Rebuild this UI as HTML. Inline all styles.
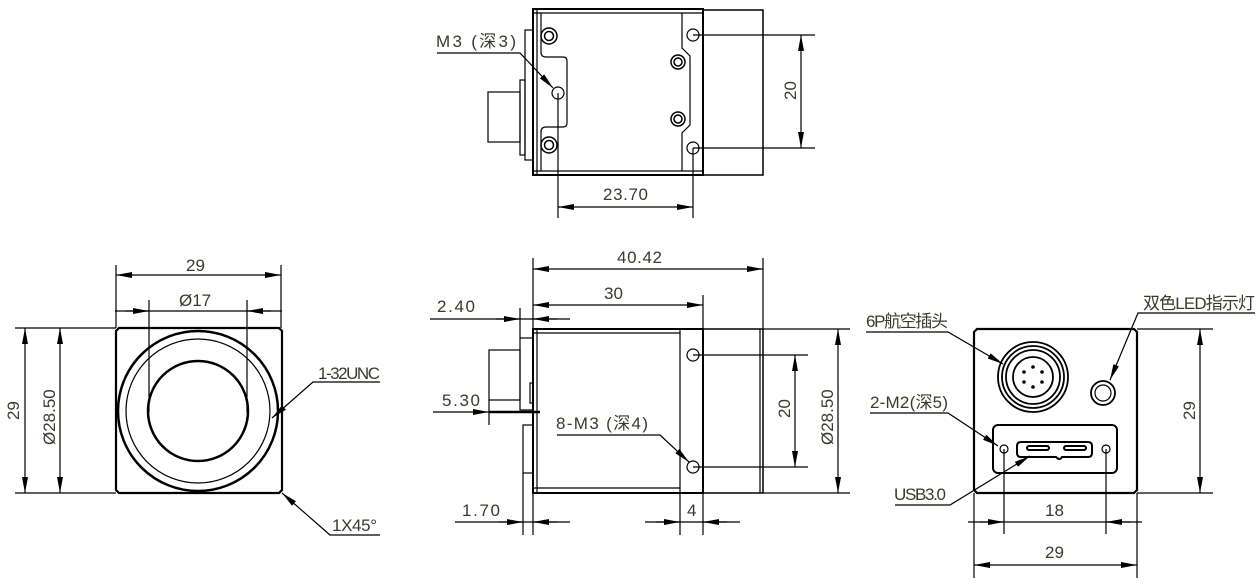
<!DOCTYPE html>
<html><head><meta charset="utf-8"><style>
html,body{margin:0;padding:0;background:#fff;}
svg{display:block;}
text{font-family:"Liberation Sans","Noto Sans CJK SC",sans-serif;font-size:17px;fill:#3a3a30;}
</style></head><body>
<svg width="1258" height="586" viewBox="0 0 1258 586" xmlns="http://www.w3.org/2000/svg">
<defs>
<marker id="a" viewBox="0 0 16 6" refX="16" refY="3" markerWidth="16" markerHeight="6" markerUnits="userSpaceOnUse" orient="auto-start-reverse"><path d="M0,0L16,3L0,6z" fill="#000"/></marker>
</defs>
<g fill="none" stroke="#000" stroke-width="1.2">

<!-- LEFT VIEW -->
<path d="M119,328H279L282,331V490L279,493H119L116,490V331Z" stroke-width="2.2"/>
<circle cx="198" cy="411" r="80" stroke-width="2.5"/>
<circle cx="198" cy="411" r="72"/>
<circle cx="198" cy="411" r="50" stroke-width="2.5"/>
<line x1="116" y1="265" x2="116" y2="328"/>
<line x1="281" y1="265" x2="281" y2="328"/>
<line x1="116" y1="275" x2="281" y2="275" marker-start="url(#a)" marker-end="url(#a)"/>
<line x1="149" y1="300" x2="149" y2="412"/>
<line x1="247" y1="300" x2="247" y2="412"/>
<line x1="115" y1="311" x2="282" y2="311"/>
<line x1="125" y1="311" x2="149" y2="311" marker-end="url(#a)"/>
<line x1="271" y1="311" x2="247" y2="311" marker-end="url(#a)"/>
<line x1="15" y1="328" x2="116" y2="328"/>
<line x1="15" y1="493" x2="116" y2="493"/>
<line x1="25" y1="328" x2="25" y2="493" marker-start="url(#a)" marker-end="url(#a)"/>
<line x1="60" y1="328" x2="60" y2="493" marker-start="url(#a)" marker-end="url(#a)"/>
<polyline points="380,382 313,382 272,418" marker-end="url(#a)"/>
<polyline points="380,535 330,535 282,493" marker-end="url(#a)"/>

<!-- TOP VIEW -->
<rect x="533" y="9" width="170" height="166" stroke-width="2"/>
<line x1="537" y1="9" x2="537" y2="175"/>
<line x1="533" y1="13" x2="703" y2="13"/>
<line x1="533" y1="171" x2="703" y2="171"/>
<rect x="703" y="10" width="60" height="165" stroke-width="1.5"/>
<rect x="525" y="30" width="8" height="130"/>
<rect x="520" y="80" width="5" height="75"/>
<rect x="488" y="92" width="32" height="50"/>
<path d="M541,13V52Q541,57 546,57H563Q567,57 567,61V123Q567,127 563,127H546Q541,127 541,132V171"/>
<path d="M682,13V48L690,56V125L682,133V171"/>
<circle cx="549" cy="36" r="8" stroke-width="1.5"/><circle cx="549" cy="36" r="4.5" stroke-width="1.5"/>
<circle cx="549" cy="145" r="8" stroke-width="1.5"/><circle cx="549" cy="145" r="4.5" stroke-width="1.5"/>
<circle cx="678" cy="62" r="7" stroke-width="1.5"/><circle cx="678" cy="62" r="4" stroke-width="1.5"/>
<circle cx="678" cy="119" r="7" stroke-width="1.5"/><circle cx="678" cy="119" r="4" stroke-width="1.5"/>
<circle cx="693" cy="35" r="6"/><circle cx="693" cy="148" r="6"/>
<circle cx="558" cy="93" r="6"/>
<line x1="693" y1="35" x2="815" y2="35"/>
<line x1="693" y1="148" x2="815" y2="148"/>
<line x1="801" y1="35" x2="801" y2="148" marker-start="url(#a)" marker-end="url(#a)"/>
<line x1="558" y1="93" x2="558" y2="218"/>
<line x1="693" y1="148" x2="693" y2="218"/>
<line x1="558" y1="207" x2="693" y2="207" marker-start="url(#a)" marker-end="url(#a)"/>
<polyline points="437,53 520,53 553,88" marker-end="url(#a)"/>

<!-- MIDDLE VIEW -->
<rect x="533" y="329" width="170" height="164" stroke-width="2"/>
<line x1="537" y1="329" x2="537" y2="493"/>
<line x1="533" y1="333" x2="680" y2="333"/>
<line x1="533" y1="488" x2="680" y2="488"/>
<line x1="680" y1="329" x2="680" y2="493"/>
<rect x="703" y="329" width="60" height="164" stroke-width="1.5"/>
<line x1="760" y1="329" x2="760" y2="493"/>
<rect x="520" y="338" width="13" height="72"/>
<rect x="523" y="425" width="10" height="48"/>
<rect x="489" y="350" width="31" height="50"/>
<rect x="530" y="383" width="3" height="20"/>
<circle cx="693" cy="355" r="6"/><circle cx="693" cy="467" r="6"/>
<line x1="533" y1="258" x2="533" y2="329"/>
<line x1="763" y1="258" x2="763" y2="329"/>
<line x1="533" y1="269" x2="763" y2="269" marker-start="url(#a)" marker-end="url(#a)"/>
<line x1="703" y1="295" x2="703" y2="329"/>
<line x1="533" y1="305" x2="703" y2="305" marker-start="url(#a)" marker-end="url(#a)"/>
<line x1="520" y1="308" x2="520" y2="338"/>
<line x1="430" y1="319" x2="570" y2="319"/>
<line x1="496" y1="319" x2="520" y2="319" marker-end="url(#a)"/>
<line x1="557" y1="319" x2="533" y2="319" marker-end="url(#a)"/>
<line x1="489" y1="400" x2="489" y2="425"/>
<line x1="433" y1="412" x2="489" y2="412" marker-end="url(#a)"/>
<line x1="489" y1="412" x2="540" y2="412" stroke-width="2.5"/>
<line x1="523" y1="473" x2="523" y2="535"/>
<line x1="533" y1="493" x2="533" y2="535"/>
<line x1="680" y1="493" x2="680" y2="535"/>
<line x1="703" y1="493" x2="703" y2="535"/>
<line x1="455" y1="522" x2="570" y2="522"/>
<line x1="499" y1="522" x2="523" y2="522" marker-end="url(#a)"/>
<line x1="557" y1="522" x2="533" y2="522" marker-end="url(#a)"/>
<line x1="645" y1="522" x2="740" y2="522"/>
<line x1="656" y1="522" x2="680" y2="522" marker-end="url(#a)"/>
<line x1="727" y1="522" x2="703" y2="522" marker-end="url(#a)"/>
<line x1="693" y1="355" x2="808" y2="355"/>
<line x1="693" y1="467" x2="808" y2="467"/>
<line x1="795" y1="355" x2="795" y2="467" marker-start="url(#a)" marker-end="url(#a)"/>
<line x1="763" y1="329" x2="850" y2="329"/>
<line x1="763" y1="493" x2="850" y2="493"/>
<line x1="838" y1="329" x2="838" y2="493" marker-start="url(#a)" marker-end="url(#a)"/>
<polyline points="557,435 660,435 689,462" marker-end="url(#a)"/>

<!-- RIGHT VIEW -->
<path d="M977,329H1134L1137,332V490L1134,493H977L974,490V332Z" stroke-width="2.2"/>
<circle cx="1033" cy="377" r="35" stroke-width="1.8"/>
<circle cx="1033" cy="377" r="31" stroke-width="1.8"/>
<circle cx="1033" cy="377" r="27" stroke-width="1.8"/>
<circle cx="1033" cy="377" r="20" stroke-width="1.8"/>
<circle cx="1103" cy="393" r="12" stroke-width="1.8"/>
<circle cx="1103" cy="393" r="8"/>
<rect x="993" y="425" width="124" height="48" rx="5" stroke-width="2"/>
<circle cx="1004" cy="449" r="4"/><circle cx="1106" cy="449" r="4"/>
<path d="M1021,442H1088Q1092,442 1092,446V453Q1092,457 1088,457H1062Q1060,461 1056,457H1021Q1017,457 1017,453V446Q1017,442 1021,442Z" stroke-width="2"/>
<rect x="1027" y="446" width="22" height="4" rx="2" stroke-width="2"/>
<rect x="1064" y="446" width="22" height="4" rx="2" stroke-width="2"/>
<line x1="1137" y1="329" x2="1213" y2="329"/>
<line x1="1137" y1="493" x2="1213" y2="493"/>
<line x1="1200" y1="329" x2="1200" y2="493" marker-start="url(#a)" marker-end="url(#a)"/>
<line x1="1004" y1="449" x2="1004" y2="534"/>
<line x1="1106" y1="449" x2="1106" y2="534"/>
<line x1="974" y1="493" x2="974" y2="578"/>
<line x1="1137" y1="493" x2="1137" y2="578"/>
<line x1="968" y1="522" x2="1142" y2="522"/>
<line x1="980" y1="522" x2="1004" y2="522" marker-end="url(#a)"/>
<line x1="1130" y1="522" x2="1106" y2="522" marker-end="url(#a)"/>
<line x1="974" y1="565" x2="1137" y2="565" marker-start="url(#a)" marker-end="url(#a)"/>
<polyline points="866,332 948,332 1003,364" marker-end="url(#a)"/>
<polyline points="1255,313 1138,313 1110,380" marker-end="url(#a)"/>
<polyline points="870,413 948,413 998,446" marker-end="url(#a)"/>
<polyline points="895,505 950,505 1030,456" marker-end="url(#a)"/>
</g>
<g fill="#000"><circle cx="1033" cy="367" r="1.8"/><circle cx="1042" cy="372" r="1.8"/><circle cx="1042" cy="382" r="1.8"/><circle cx="1033" cy="387" r="1.8"/><circle cx="1024" cy="382" r="1.8"/><circle cx="1024" cy="372" r="1.8"/></g>
<!-- texts -->
<text x="186" y="271">29</text>
<text x="179" y="306">Ø17</text>
<text transform="translate(19,420) rotate(-90)">29</text>
<text transform="translate(55,445) rotate(-90)">Ø28.50</text>
<text x="318" y="379" textLength="62">1-32UNC</text>
<text x="332" y="531" textLength="45">1X45°</text>
<text x="436" y="47" textLength="80">M3 (深3)</text>
<text x="603" y="200" textLength="45">23.70</text>
<text transform="translate(796,100) rotate(-90)">20</text>
<text x="617" y="263" textLength="45">40.42</text>
<text x="604" y="299">30</text>
<text x="437" y="312" textLength="38">2.40</text>
<text x="442" y="406" textLength="38">5.30</text>
<text x="462" y="516" textLength="38">1.70</text>
<text x="687" y="516">4</text>
<text x="556" y="429" textLength="92">8-M3 (深4)</text>
<text transform="translate(790,418) rotate(-90)">20</text>
<text transform="translate(833,445) rotate(-90)">Ø28.50</text>
<text x="866" y="327" textLength="82">6P航空插头</text>
<text x="1143" y="309" textLength="112">双色LED指示灯</text>
<text x="870" y="408" textLength="78">2-M2(深5)</text>
<text x="894" y="500" textLength="52">USB3.0</text>
<text x="1045" y="516">18</text>
<text x="1045" y="558">29</text>
<text transform="translate(1195,420) rotate(-90)">29</text>
</svg>
</body></html>
